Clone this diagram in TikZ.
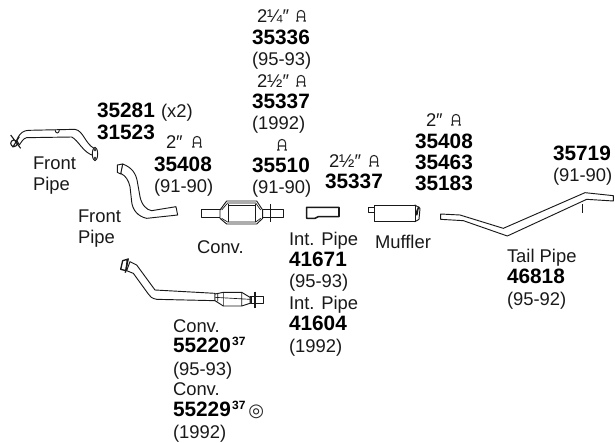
\documentclass[tikz,border=0pt]{standalone}
\usepackage{fontspec}
\setmainfont{Liberation Sans}
\newfontfamily\symfont{DejaVu Sans}
\tikzset{
  x=0.75pt,y=-0.75pt,
  reg/.style={anchor=base west,inner sep=0pt,outer sep=0pt,text=black!90,font=\fontsize{13.8}{15}\selectfont},
  num/.style={anchor=base west,inner sep=0pt,outer sep=0pt,text=black,font=\bfseries\fontsize{15.6}{17}\selectfont},
  part/.style={draw=black!90,line width=0.7pt,line join=round,fill=white},
  thin part/.style={draw=black!90,line width=0.5pt},
  hanger/.pic={\draw[black!85,line width=0.8pt,line join=round]
     (-3.6,0) -- (-3.6,-7) arc[start angle=180,end angle=360,radius=3.6] -- (3.6,0)
     (-3.6,-4) -- (3.6,-4) (-4.8,0) -- (-2.4,0) (2.4,0) -- (4.8,0);}
}
\begin{document}
\begin{tikzpicture}
\useasboundingbox (0,0) rectangle (615,443);
% column above converter
\node[reg] (a1) at (257,22) {2¼″};
\pic at (301,21) {hanger};
\node[num] (a2) at (252,44) {35336};
\node[reg] (a3) at (252,65) {(95-93)};
\node[reg] (a4) at (257,87) {2½″};
\pic at (301,86) {hanger};
\node[num] (a5) at (252,108) {35337};
\node[reg] (a6) at (252,129) {(1992)};
\pic at (282,150) {hanger};
\node[num] (a7) at (252,172) {35510};
\node[reg] (a8) at (252,193) {(91-90)};
% left labels
\node[num] (b1) at (97,117) {35281};
\node[reg] (b2) at (161,117) {(x2)};
\node[num] (b3) at (97,139) {31523};
\node[reg] (b4) at (166,148) {2″};
\pic at (197,147) {hanger};
\node[num] (b5) at (154,171) {35408};
\node[reg] (b6) at (154,192) {(91-90)};
\node[reg] (c1) at (33,169) {Front};
\node[reg] (c2) at (33,190) {Pipe};
\node[reg] (c3) at (78,222) {Front};
\node[reg] (c4) at (78,243) {Pipe};
\node[reg] (c5) at (197,253) {Conv.};
% int pipe
\node[reg] (d1) at (289,245) {Int. Pipe};
\node[num] (d2) at (289,266) {41671};
\node[reg] (d3) at (289,287) {(95-93)};
\node[reg] (d4) at (289,309) {Int. Pipe};
\node[num] (d5) at (289,330) {41604};
\node[reg] (d6) at (289,352) {(1992)};
% right of int pipe
\node[reg] (e1) at (329,167) {2½″};
\pic at (374,166) {hanger};
\node[num] (e2) at (325,188) {35337};
\node[reg] (e3) at (375,248) {Muffler};
\node[reg] (e4) at (426,126) {2″};
\pic at (456,125) {hanger};
\node[num] (e5) at (415,148) {35408};
\node[num] (e6) at (415,169) {35463};
\node[num] (e7) at (415,190) {35183};
\node[num] (f1) at (553,160) {35719};
\node[reg] (f2) at (553,181) {(91-90)};
\node[reg] (f3) at (507,262) {Tail Pipe};
\node[num] (f4) at (507,283) {46818};
\node[reg] (f5) at (507,305) {(95-92)};
% lower converter
\node[reg] (g1) at (173,332) {Conv.};
\node[num] (g2) at (173,352) {55220\raisebox{0.33em}{\fontsize{9}{10}\selectfont\kern1pt 37}};
\node[reg] (g3) at (173,375) {(95-93)};
\node[reg] (g4) at (173,395) {Conv.};
\node[num] (g5) at (173,416) {55229\raisebox{0.33em}{\fontsize{9}{10}\selectfont\kern1pt 37}};
\node[anchor=base west,inner sep=0pt,text=black!85,font=\symfont\fontsize{13.5}{15}\selectfont] (g7) at (248,416) {◎};
\node[reg] (g6) at (173,438) {(1992)};
% front pipe 1
\begin{scope}[shift={(0,90)},x=0.25pt,y=-0.25pt]
\draw[part] (50,150) .. controls (60,128) and (70,122) .. (85,121) -- (225,118)
  .. controls (250,122) and (255,160) .. (282,175) -- (282,197)
  .. controls (250,190) and (235,150) .. (215,141) -- (80,143) .. controls (70,145) and (65,155) .. (58,165) -- cycle;
\draw[part] (285,192) ellipse[x radius=8,y radius=20];
\draw[thin part] (285,180) circle[radius=3] (285,204) circle[radius=3];
\draw[part,fill=none] (165,120) .. controls (167,132) and (177,132) .. (178,120);
\draw[part,fill=none,line width=0.8pt] (42,160) circle[radius=10] (32,135) -- (62,175) (58,140) -- (38,172);
\end{scope}
% front pipe 2
\begin{scope}[shift={(0,90)},x=0.25pt,y=-0.25pt]
\draw[part] (368,222) .. controls (395,232) and (408,250) .. (412,275) -- (420,320)
  .. controls (425,345) and (440,360) .. (455,362) -- (528,350) -- (533,375) -- (440,385)
  .. controls (415,380) and (397,360) .. (395,335) -- (390,290) .. controls (385,270) and (378,258) .. (362,250) -- cycle;
\draw[part] (352,225) -- (368,222) -- (362,252) -- (352,247) -- cycle;
\end{scope}
% middle converter
\begin{scope}[shift={(190,0)},x=0.25pt,y=-0.25pt]
\draw[part] (35,627) rectangle (90,652);
\draw[part] (218,627) rectangle (280,652);
\draw[part] (90,630) -- (110,603) -- (200,603) -- (218,630) -- (218,655) -- (200,672) -- (110,672) -- (90,655) -- cycle;
\draw[thin part] (95,630) -- (113,609) -- (197,609) -- (212,630) (212,655) -- (197,666) -- (113,666) -- (95,655);
\draw[thin part] (115,612) -- (115,666) (195,612) -- (195,666) (115,615) -- (195,615);
\draw[part,line width=0.9pt] (241,612) -- (241,666);
\draw[part,line width=1.2pt] (350,622) -- (447,622) -- (447,650) -- (385,650) -- (375,655) -- (350,655) -- cycle;
\end{scope}
% lower converter drawing
\begin{scope}[shift={(100,240)},x=0.25pt,y=-0.25pt]
\draw[part] (90,65) -- (110,75) -- (165,150) -- (345,160) -- (345,182) -- (170,178)
  .. controls (155,175) and (150,170) .. (145,162) -- (100,100) -- (80,92) -- cycle;
\draw[part,line width=1pt] (68,62) -- (82,58) -- (78,92) -- (62,88) -- cycle;
\draw[part,line width=1pt] (85,55) -- (76,98);
\draw[part] (450,170) rectangle (490,190);
\draw[part] (345,162) -- (370,157) -- (425,157) -- (450,172) -- (450,190) -- (425,198) -- (370,198) -- (345,182) -- cycle;
\draw[thin part] (353,162) -- (353,184) (370,157) -- (370,198) (425,157) -- (425,198) (345,172) -- (450,178);
\draw[part,line width=1.1pt] (465,155) -- (465,203);
\draw[part,line width=1pt] (455,172) -- (455,190);
\end{scope}
% muffler
\begin{scope}[shift={(350,130)},x=0.25pt,y=-0.25pt]
\draw[part] (55,232) rectangle (72,247);
\draw[part] (195,225) -- (210,235) -- (207,268) -- (195,275) -- cycle;
\draw[part] (72,225) rectangle (195,275);
\draw[part,line width=1.2pt] (207,230) -- (198,250) (203,240) -- (200,256);
\end{scope}
% tail pipe
\begin{scope}[shift={(350,130)},x=0.25pt,y=-0.25pt]
\draw[part] (272,252) -- (330,255) -- (460,295) -- (705,188) -- (790,197) -- (790,213) -- (710,208) -- (472,318) -- (340,272) -- (272,268) -- cycle;
\draw[part] (697,222) -- (697,248);
\end{scope}
\end{tikzpicture}
\end{document}
